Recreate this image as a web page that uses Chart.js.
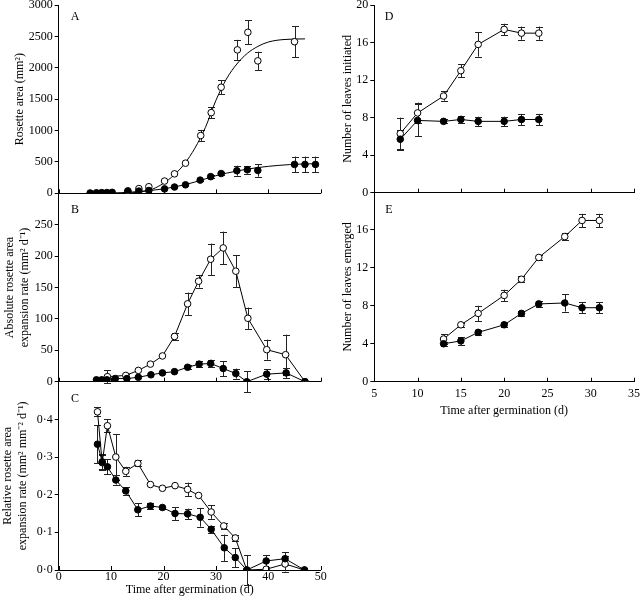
<!DOCTYPE html>
<html>
<head>
<meta charset="utf-8">
<script src="https://cdn.jsdelivr.net/npm/chart.js@4.4.1/dist/chart.umd.min.js"></script>
<style>
  body { margin: 0; background: #fff; }
  #page { position: relative; width: 640px; height: 601px; overflow: hidden; background: #fff; }
  #page canvas { position: absolute; }
</style>
</head>
<body>
<div id="page">
  <canvas id="cA"></canvas>
  <canvas id="cB"></canvas>
  <canvas id="cC"></canvas>
  <canvas id="cD"></canvas>
  <canvas id="cE"></canvas>
</div>
<script>
// ---- A: rosette area (mm2) ----
var aDaysFilled = [6, 7.2, 8.2, 9.2, 10.2, 13.2, 15.3, 17.2, 20.2, 22.1, 24.2, 27, 29, 31, 34, 36, 38, 45, 47, 49];
var aAreaFilled = [5, 8, 10, 12, 15, 30, 35, 45, 70, 100, 135, 210, 265, 315, 360, 375, 365, 460, 460, 460];
var aErrFilled  = [0, 0, 0, 0, 0, 0, 0, 0, 0, 0, 0, 20, 20, 25, 80, 60, 100, 125, 125, 125];
var aDaysOpen = [13.2, 15.3, 17.2, 20.2, 22.1, 24.2, 27.1, 29.1, 31, 34.1, 36.1, 38, 45];
var aAreaOpen = [40, 75, 105, 195, 310, 480, 920, 1285, 1690, 2285, 2565, 2110, 2415];
var aErrOpen  = [0, 0, 0, 0, 0, 0, 90, 90, 110, 160, 190, 145, 250];
// fitted curves
var aFitDaysOpen = [12, 15, 18, 20, 22, 24, 26, 28, 30, 32, 34, 36, 38, 40, 43, 47];
var aFitOpen     = [0, 15, 70, 160, 290, 470, 720, 1050, 1480, 1820, 2060, 2230, 2340, 2410, 2450, 2460];
var aFitDaysFilled = [6, 10, 14, 18, 20, 22, 24, 26, 28, 30, 32, 34, 36, 38, 42, 46, 49];
var aFitFilled     = [2, 5, 20, 50, 70, 100, 135, 180, 230, 280, 320, 355, 385, 410, 445, 465, 472];

// ---- B: absolute expansion rate ----
var bDaysFilled = [7.2, 8.2, 9.2, 10.8, 13, 15.2, 17.6, 19.8, 22.1, 24.6, 26.8, 29, 31.4, 33.8, 35.9, 39.7, 43.4, 47];
var bRateFilled = [3, 3, 3, 5, 5, 7, 11, 14, 16, 23, 28, 29, 21, 13, 0, 12, 14, 0];
var bErrFilled  = [0, 0, 0, 0, 0, 0, 0, 0, 0, 3, 5, 6, 12, 8, 17, 8, 8, 0];
var bDaysOpen = [9.3, 12.8, 15.2, 17.5, 19.8, 22.1, 24.6, 26.7, 29, 31.4, 33.8, 36.1, 39.7, 43.3, 47];
var bRateOpen = [8, 10, 18, 28, 41, 72, 124, 160, 195, 213, 176, 101, 51, 43, 0];
var bErrOpen  = [10, 3, 0, 0, 0, 5, 18, 10, 25, 26, 25, 17, 16, 32, 0];

// ---- C: relative expansion rate ----
var cDaysFilled = [7.4, 8.3, 9.3, 10.9, 12.8, 15.1, 17.5, 19.8, 22.2, 24.6, 27, 29.1, 31.6, 33.7, 35.9, 39.6, 43.2, 46.9];
var cRateFilled = [0.334, 0.287, 0.274, 0.239, 0.21, 0.16, 0.17, 0.166, 0.15, 0.149, 0.14, 0.108, 0.059, 0.033, 0, 0.024, 0.03, 0];
var cErrFilled  = [0.05, 0.02, 0.02, 0.012, 0.01, 0.017, 0.007, 0.005, 0.017, 0.014, 0.025, 0.01, 0.035, 0.025, 0.04, 0.015, 0.017, 0];
var cDaysOpen = [7.4, 8.3, 9.3, 10.9, 12.8, 15.1, 17.5, 19.8, 22.2, 24.6, 26.7, 29.1, 31.5, 33.7, 35.9, 39.6, 43.2, 46.9];
var cRateOpen = [0.42, 0.285, 0.383, 0.3, 0.262, 0.283, 0.227, 0.217, 0.224, 0.214, 0.198, 0.154, 0.117, 0.085, 0, 0.002, 0.016, 0];
var cErrOpen  = [0.012, 0.02, 0.017, 0.06, 0.012, 0.008, 0, 0, 0, 0.018, 0, 0.018, 0.008, 0.009, 0, 0, 0.02, 0];

// ---- D: leaves initiated ----
var dDays = [8, 10, 13, 15, 17, 20, 22, 24];
var dOpen = [6.3, 8.5, 10.3, 13.0, 15.8, 17.4, 17.0, 17.0];
var dErrOpen = [1.7, 1.1, 0.5, 0.7, 1.3, 0.6, 0.7, 0.7];
var dFilled = [5.7, 7.7, 7.6, 7.8, 7.6, 7.6, 7.8, 7.8];
var dErrFilled = [1.0, 1.7, 0.2, 0.4, 0.5, 0.5, 0.6, 0.6];

// ---- E: leaves emerged ----
var eDays = [13, 15, 17, 20, 22, 24, 27, 29, 31];
var eOpen = [4.5, 6.0, 7.2, 9.1, 10.8, 13.1, 15.3, 17.0, 17.0];
var eErrOpen = [0.5, 0.2, 0.8, 0.6, 0.3, 0.3, 0.4, 0.7, 0.7];
var eFilled = [4.0, 4.3, 5.2, 6.0, 7.2, 8.2, 8.3, 7.8, 7.8];
var eErrFilled = [0.2, 0.4, 0.3, 0.2, 0.3, 0.3, 0.9, 0.6, 0.6];

var serif = 'Liberation Serif, Times New Roman, serif';
var fnt = { family: serif, size: 12 };

function pts(xs, ys) {
  return xs.map(function(x, i) { return { x: x, y: ys[i] }; });
}

function marks(xs, ys, err, filled, line) {
  return {
    data: pts(xs, ys),
    err: err,
    showLine: line,
    borderColor: '#000',
    borderWidth: 1,
    pointRadius: 3.3,
    pointHoverRadius: 3.3,
    pointBorderWidth: 1,
    pointBorderColor: '#000',
    pointBackgroundColor: filled ? '#000' : '#fff',
    backgroundColor: filled ? '#000' : '#fff',
    order: filled ? 0 : 1
  };
}

function curve(xs, ys) {
  return {
    data: pts(xs, ys),
    showLine: true,
    borderColor: '#000',
    borderWidth: 1,
    pointRadius: 0,
    cubicInterpolationMode: 'monotone',
    order: 3
  };
}

// error bars drawn under the markers
var errBars = {
  id: 'errBars',
  beforeDatasetsDraw: function(chart) {
    var ctx = chart.ctx, ys = chart.scales.y;
    ctx.save();
    ctx.strokeStyle = '#222';
    ctx.lineWidth = 1;
    chart.data.datasets.forEach(function(ds, di) {
      if (!ds.err) return;
      var meta = chart.getDatasetMeta(di);
      ds.data.forEach(function(p, i) {
        var e = ds.err[i];
        if (!e) return;
        var x = Math.round(meta.data[i].x) + 0.5;
        var y1 = ys.getPixelForValue(p.y + e), y2 = ys.getPixelForValue(p.y - e);
        ctx.beginPath();
        ctx.moveTo(x, y1); ctx.lineTo(x, y2);
        ctx.moveTo(x - 3.5, Math.round(y1) + 0.5); ctx.lineTo(x + 3.5, Math.round(y1) + 0.5);
        ctx.moveTo(x - 3.5, Math.round(y2) + 0.5); ctx.lineTo(x + 3.5, Math.round(y2) + 0.5);
        ctx.stroke();
      });
    });
    ctx.restore();
  }
};

// x tick marks point into the plot, plus the panel letter
var inTicks = {
  id: 'inTicks',
  afterDraw: function(chart) {
    var ctx = chart.ctx, xs = chart.scales.x, b = chart.chartArea.bottom;
    ctx.save();
    ctx.strokeStyle = '#000';
    ctx.lineWidth = 1;
    xs.ticks.forEach(function(t) {
      var x = Math.round(xs.getPixelForValue(t.value)) + 0.5;
      ctx.beginPath();
      ctx.moveTo(x, b); ctx.lineTo(x, b - 4);
      ctx.stroke();
    });
    var o = chart.options.plugins.inTicks;
    ctx.fillStyle = '#000';
    ctx.font = '12px ' + serif;
    ctx.textAlign = 'center';
    ctx.textBaseline = 'middle';
    ctx.fillText(o.letter, o.lx, o.ly);
    ctx.restore();
  }
};

function dot(v) { return v.toFixed(1).replace('.', '\u00b7'); }

function panel(id, box, area, o) {
  var cv = document.getElementById(id);
  cv.width = box.w; cv.height = box.h;
  cv.style.left = box.left + 'px';
  cv.style.top = box.top + 'px';
  var xh = o.xh;
  return new Chart(cv.getContext('2d'), {
    type: 'scatter',
    data: { datasets: o.datasets },
    plugins: [errBars, inTicks],
    options: {
      responsive: false,
      animation: false,
      events: [],
      layout: { padding: {
        left: 0,
        top: area.t - box.top,
        right: box.left + box.w - area.r,
        bottom: box.top + box.h - area.b - xh
      } },
      plugins: {
        legend: { display: false },
        tooltip: { enabled: false },
        inTicks: { letter: o.letter, lx: o.lx - box.left, ly: o.ly - box.top }
      },
      scales: {
        x: {
          type: 'linear', min: o.xMin, max: o.xMax,
          afterFit: function(s) { s.height = xh; },
          ticks: { display: !!o.xTitle, stepSize: o.xStep, color: '#000', font: fnt, padding: o.xPad || 0, maxRotation: 0, autoSkip: false },
          grid: { display: true, drawOnChartArea: false, drawTicks: false },
          border: { display: true, color: '#000', width: 1 },
          title: { display: !!o.xTitle, text: o.xTitle, color: '#000', font: fnt, padding: 0 }
        },
        y: {
          type: 'linear', min: 0, max: o.yMax,
          afterFit: function(s) { s.width = area.l - box.left; },
          afterBuildTicks: function(s) { s.ticks = s.ticks.filter(function(t) { return t.value <= o.yTop + 1e-9; }); },
          ticks: { stepSize: o.yStep, color: '#000', font: fnt, padding: 2, callback: o.fmt || function(v) { return v; } },
          grid: { drawOnChartArea: false, drawTicks: true, tickLength: 4, color: '#000' },
          border: { display: true, color: '#000', width: 1 },
          title: { display: true, text: o.yTitle, color: '#000', font: fnt, padding: { top: o.yPad, bottom: 0 } }
        }
      }
    }
  });
}

panel('cA', { left: 0, top: -15, w: 340, h: 225 }, { l: 58.7, t: 5, r: 320.7, b: 193.3 }, {
  xMin: 0, xMax: 50, xStep: 10, xh: 1,
  yMax: 3000, yTop: 3000, yStep: 500, yTitle: 'Rosette area (mm\u00b2)', yPad: 12.8,
  letter: 'A', lx: 75, ly: 17,
  datasets: [
    marks(aDaysFilled, aAreaFilled, aErrFilled, true, false),
    marks(aDaysOpen, aAreaOpen, aErrOpen, false, false),
    curve(aFitDaysOpen, aFitOpen),
    curve(aFitDaysFilled, aFitFilled)
  ]
});

panel('cB', { left: 0, top: 175, w: 340, h: 225 }, { l: 58.7, t: 193.3, r: 320.7, b: 381.7 }, {
  xMin: 0, xMax: 50, xStep: 10, xh: 1,
  yMax: 300, yTop: 250, yStep: 50, yTitle: ['Absolute rosette area', 'expansion rate (mm\u00b2 d\u207b\u00b9)'], yPad: 2.8,
  letter: 'B', lx: 75, ly: 210,
  datasets: [
    marks(bDaysFilled, bRateFilled, bErrFilled, true, true),
    marks(bDaysOpen, bRateOpen, bErrOpen, false, true)
  ]
});

panel('cC', { left: 0, top: 365, w: 340, h: 236 }, { l: 58.7, t: 381.7, r: 320.7, b: 570 }, {
  xMin: 0, xMax: 50, xStep: 10, xh: 27, xPad: 0, xTitle: 'Time after germination (d)',
  yMax: 0.5, yTop: 0.4, yStep: 0.1, fmt: dot,
  yTitle: ['Relative rosette area', 'expansion rate (mm\u00b2 mm\u207b\u00b2 d\u207b\u00b9)'], yPad: 1,
  letter: 'C', lx: 75, ly: 399,
  datasets: [
    marks(cDaysFilled, cRateFilled, cErrFilled, true, true),
    marks(cDaysOpen, cRateOpen, cErrOpen, false, true)
  ]
});

panel('cD', { left: 330, top: -15, w: 340, h: 225 }, { l: 374.3, t: 5, r: 634, b: 192.7 }, {
  xMin: 5, xMax: 35, xStep: 5, xh: 1,
  yMax: 20, yTop: 20, yStep: 4, yTitle: 'Number of leaves initiated', yPad: 10.8,
  letter: 'D', lx: 389, ly: 17,
  datasets: [
    marks(dDays, dFilled, dErrFilled, true, true),
    marks(dDays, dOpen, dErrOpen, false, true)
  ]
});

panel('cE', { left: 330, top: 175, w: 340, h: 260 }, { l: 374.3, t: 192, r: 634, b: 381.7 }, {
  xMin: 5, xMax: 35, xStep: 5, xh: 36, xPad: 5, xTitle: 'Time after germination (d)',
  yMax: 20, yTop: 16, yStep: 4, yTitle: 'Number of leaves emerged', yPad: 10.8,
  letter: 'E', lx: 389, ly: 210,
  datasets: [
    marks(eDays, eFilled, eErrFilled, true, true),
    marks(eDays, eOpen, eErrOpen, false, true)
  ]
});
</script>
</body>
</html>
